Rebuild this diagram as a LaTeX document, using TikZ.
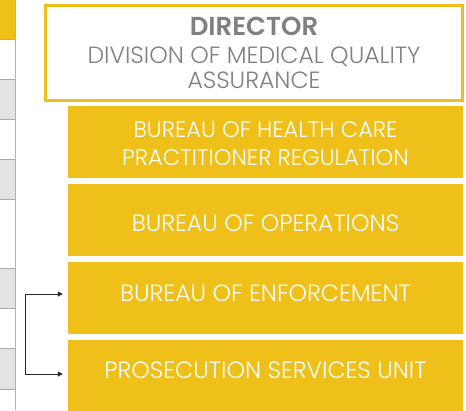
\documentclass[tikz,border=0pt]{standalone}
\usepackage{fontspec}
\setmainfont{Poppins}[UprightFont=* Light, BoldFont=* SemiBold]
\usetikzlibrary{arrows.meta}
\definecolor{gold}{RGB}{240,192,26}
\definecolor{txtgray}{RGB}{128,128,128}
\definecolor{cellgray}{RGB}{226,227,229}
\definecolor{linegray}{RGB}{170,170,170}
\definecolor{arrgray}{RGB}{40,40,40}
\tikzset{
  unitbox/.style={fill=gold, draw=none, minimum width=395pt, minimum height=72pt, inner sep=0pt},
  unittext/.style={text=white, align=center, inner sep=0pt, font=\fontsize{23.5}{27}\selectfont},
  smalltext/.style={unittext, font=\fontsize{22.5}{27.5}\selectfont},
  sepline/.style={draw=linegray, line width=1pt},
  arr/.style={draw=arrgray, line width=1pt, -{Triangle[length=5pt,width=5pt]}}
}
\begin{document}
\begin{tikzpicture}[x=1pt,y=-1pt]
\useasboundingbox (0,0) rectangle (466,410);
% left strip
\fill[gold] (0,0) rectangle (15,39.5);
\fill[cellgray] (0,79) rectangle (15,119);
\fill[cellgray] (0,159) rectangle (15,199);
\fill[cellgray] (0,268.5) rectangle (15,308.5);
\fill[cellgray] (0,348.5) rectangle (15,389);
\foreach \yy in {39.5,79,119,159,199,268.5,308.5,348.5,389}
  \draw[sepline] (0,\yy) -- (15,\yy);
\draw[draw=linegray!90, line width=1.8pt] (15.5,0) -- (15.5,410);
% director
\node[draw=gold, line width=3pt, fill=white, minimum width=417pt, minimum height=95pt, inner sep=0pt, text=txtgray, align=center, font=\fontsize{23.5}{25}\selectfont] (dir) at (254,52.5)
  {{\fontsize{26}{25}\selectfont\bfseries DIRECTOR}\\[3pt]
   DIVISION OF MEDICAL QUALITY\\
   ASSURANCE};
% units
\node[unitbox, label={[smalltext, yshift=-1.5pt]center:BUREAU OF HEALTH CARE\\PRACTITIONER REGULATION}] (b1) at (265.5,142) {};
\node[unitbox, label={[unittext, yshift=-3.5pt]center:BUREAU OF OPERATIONS}] (b2) at (265.5,220) {};
\node[unitbox, label={[unittext, yshift=4pt]center:BUREAU OF ENFORCEMENT}] (b3) at (265.5,297.5) {};
\node[unitbox, label={[unittext, yshift=6pt]center:PROSECUTION SERVICES UNIT}] (b4) at (265.5,376) {};
% connectors
\coordinate (j) at (25,294);
\draw[arr, shorten >=5pt] (j) -- (j -| b3.west);
\draw[arr, shorten >=5pt] (j) |- ([yshift=2pt]b4.west);
\end{tikzpicture}
\end{document}
